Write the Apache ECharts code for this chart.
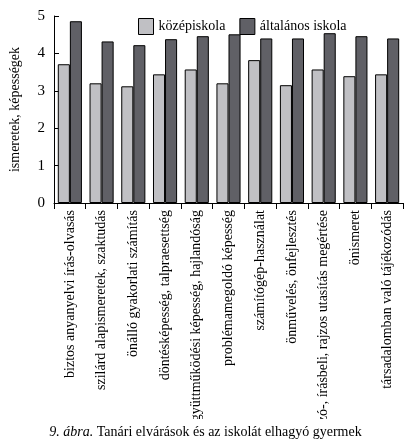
<!DOCTYPE html>
<html>
<head>
<meta charset="utf-8">
<script src="https://cdn.jsdelivr.net/npm/echarts@6/dist/echarts.min.js"></script>
<style>
  html, body { margin: 0; padding: 0; background: #fff; }
  #chart { width: 411px; height: 447px; }
</style>
</head>
<body>
<div id="chart"></div>
<script>
const categories = [
  'biztos anyanyelvi írás-olvasás',
  'szilárd alapismeretek, szaktudás',
  'önálló gyakorlati számítás',
  'döntésképesség, talpraesettség',
  'együttműködési képesség, hajlandóság',
  'problémamegoldó képesség',
  'számítógép-használat',
  'önművelés, önfejlesztés',
  'szó-, írásbeli, rajzos utasítás megértése',
  'önismeret',
  'társadalomban való tájékozódás'
];
const kozepiskola = [3.71, 3.2, 3.12, 3.44, 3.57, 3.2, 3.82, 3.15, 3.57, 3.39, 3.44];
const altalanos = [4.86, 4.32, 4.22, 4.38, 4.46, 4.51, 4.4, 4.4, 4.54, 4.46, 4.4];
const yTicks = [0, 1, 2, 3, 4, 5];

const font = '"Liberation Serif", "DejaVu Serif", serif';
const chart = echarts.init(document.getElementById('chart'));

const option = {
  animation: false,
  textStyle: { fontFamily: font, color: '#000' },
  // caption box is white so the longest axis labels get cut under it, like in the print
  title: {
    text: '{i|9. ábra.} Tanári elvárások és az iskolát elhagyó gyermek',
    left: 'center',
    top: 419,
    padding: [6, 60, 10, 60],
    backgroundColor: '#fff',
    z: 10,
    textStyle: {
      fontFamily: font,
      fontSize: 14,
      fontWeight: 'normal',
      color: '#000',
      rich: {
        i: { fontFamily: font, fontSize: 14, fontStyle: 'italic', color: '#000' }
      }
    }
  },
  legend: {
    top: 13,
    left: 133,
    icon: 'rect',
    itemWidth: 15,
    itemHeight: 16,
    itemGap: 14,
    itemStyle: { borderColor: '#000', borderWidth: 1 },
    textStyle: { fontFamily: font, fontSize: 14, color: '#000' },
    data: ['középiskola', 'általános iskola']
  },
  grid: { left: 44, right: 8, top: 16, bottom: 244, containLabel: false },
  xAxis: {
    type: 'category',
    data: categories,
    axisLine: { lineStyle: { color: '#000', width: 1 } },
    axisTick: { show: true, length: 6, lineStyle: { color: '#000' } },
    axisLabel: {
      rotate: 90,
      interval: 0,
      margin: 7,
      fontFamily: font,
      fontSize: 14,
      color: '#000'
    }
  },
  yAxis: {
    type: 'value',
    min: yTicks[0],
    max: yTicks[yTicks.length - 1],
    interval: 1,
    name: 'ismeretek, képességek',
    nameLocation: 'middle',
    nameGap: 32,
    nameTextStyle: { fontFamily: font, fontSize: 14, color: '#000' },
    axisLine: { show: true, lineStyle: { color: '#000', width: 1 } },
    axisTick: { show: true, inside: true, length: 5, lineStyle: { color: '#000' } },
    splitLine: { show: false },
    axisLabel: { fontFamily: font, fontSize: 15, color: '#000', margin: 9 }
  },
  series: [
    {
      name: 'középiskola',
      type: 'bar',
      data: kozepiskola,
      barGap: '0%',
      barCategoryGap: '24%',
      itemStyle: { color: '#c0c0c4', borderColor: '#000', borderWidth: 1 }
    },
    {
      name: 'általános iskola',
      type: 'bar',
      data: altalanos,
      itemStyle: { color: '#606066', borderColor: '#000', borderWidth: 1 }
    }
  ]
};

chart.setOption(option);
</script>
</body>
</html>
